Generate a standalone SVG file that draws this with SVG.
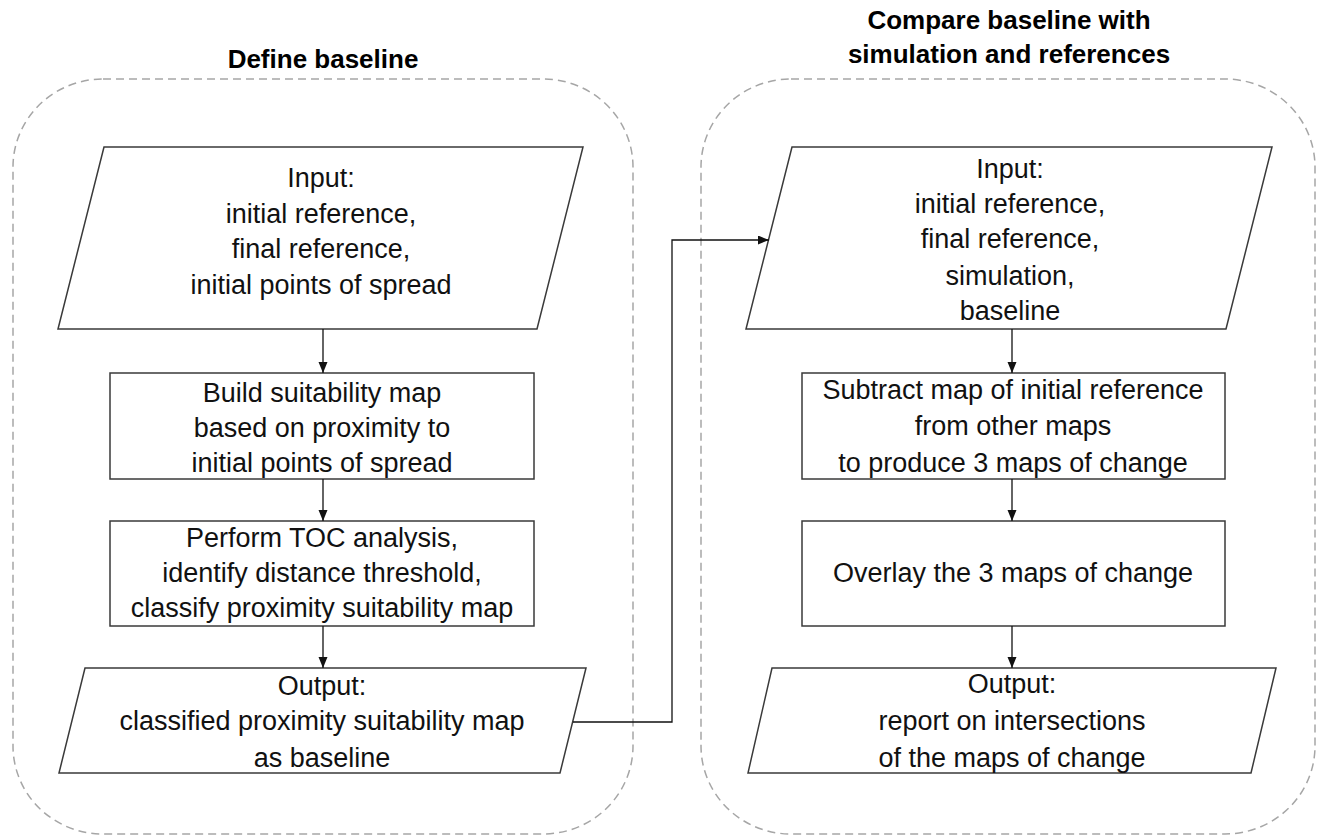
<svg xmlns="http://www.w3.org/2000/svg" width="1327" height="837" viewBox="0 0 1327 837">
  <style>
    .bg { fill: #ffffff; }
    .group { fill: none; stroke: #a6a6a6; stroke-width: 1.5; stroke-dasharray: 8 5; }
    .title { font-family: "Liberation Sans", Arial, sans-serif; font-size: 26px; font-weight: bold; fill: #000; text-anchor: middle; }
    .shape { fill: #ffffff; stroke: #3a3a3a; stroke-width: 1.5; }
    .label { font-family: "Liberation Sans", Arial, sans-serif; font-size: 27px; fill: #111; text-anchor: middle; }
    .edge { fill: none; stroke: #111; stroke-width: 1.3; }
  </style>
  <defs>
    <marker id="arrow" markerUnits="userSpaceOnUse" markerWidth="12" markerHeight="10" refX="11" refY="4.5" orient="auto">
      <path d="M0,0 L11,4.5 L0,9 z" fill="#111"/>
    </marker>
  </defs>

  <rect class="bg" x="0" y="0" width="1327" height="837"/>

  <!-- stage 1 frame -->
  <g id="stage-define-baseline">
    <rect class="group" x="13" y="79" width="620" height="755" rx="90" ry="88"/>
    <text class="title" x="323" y="68">Define baseline</text>
  </g>

  <!-- stage 2 frame -->
  <g id="stage-compare">
    <rect class="group" x="701" y="79" width="614" height="755" rx="90" ry="88"/>
    <text class="title" x="1009" y="29">Compare baseline with</text>
    <text class="title" x="1009" y="63">simulation and references</text>
  </g>

  <!-- left column -->
  <g id="input-left">
    <polygon class="shape" points="104,147 583,147 537,329 58,329"/>
    <text class="label" x="321" y="187">Input:</text>
    <text class="label" x="321" y="223">initial reference,</text>
    <text class="label" x="321" y="258">final reference,</text>
    <text class="label" x="321" y="294">initial points of spread</text>
  </g>

  <g id="build-suitability">
    <rect class="shape" x="110" y="373" width="424" height="106"/>
    <text class="label" x="322" y="402">Build suitability map</text>
    <text class="label" x="322" y="437">based on proximity to</text>
    <text class="label" x="322" y="472">initial points of spread</text>
  </g>

  <g id="toc-analysis">
    <rect class="shape" x="110" y="521" width="424" height="105"/>
    <text class="label" x="322" y="547">Perform TOC analysis,</text>
    <text class="label" x="322" y="582">identify distance threshold,</text>
    <text class="label" x="322" y="617">classify proximity suitability map</text>
  </g>

  <g id="output-left">
    <polygon class="shape" points="85,668 586,668 560,773 59,773"/>
    <text class="label" x="322" y="695">Output:</text>
    <text class="label" x="322" y="730">classified proximity suitability map</text>
    <text class="label" x="322" y="767">as baseline</text>
  </g>

  <!-- right column -->
  <g id="input-right">
    <polygon class="shape" points="792,147 1272,147 1226,329 746,329"/>
    <text class="label" x="1010" y="178">Input:</text>
    <text class="label" x="1010" y="213">initial reference,</text>
    <text class="label" x="1010" y="248">final reference,</text>
    <text class="label" x="1010" y="285">simulation,</text>
    <text class="label" x="1010" y="320">baseline</text>
  </g>

  <g id="subtract-maps">
    <rect class="shape" x="802" y="373" width="423" height="106"/>
    <text class="label" x="1013" y="399">Subtract map of initial reference</text>
    <text class="label" x="1013" y="435">from other maps</text>
    <text class="label" x="1013" y="472">to produce 3 maps of change</text>
  </g>

  <g id="overlay-maps">
    <rect class="shape" x="802" y="521" width="423" height="105"/>
    <text class="label" x="1013" y="582">Overlay the 3 maps of change</text>
  </g>

  <g id="output-right">
    <polygon class="shape" points="772,668 1276,668 1251,773 748,773"/>
    <text class="label" x="1012" y="693">Output:</text>
    <text class="label" x="1012" y="730">report on intersections</text>
    <text class="label" x="1012" y="767">of the maps of change</text>
  </g>

  <!-- connectors -->
  <g id="connectors">
    <line class="edge" x1="323" y1="329" x2="323" y2="373" marker-end="url(#arrow)"/>
    <line class="edge" x1="323" y1="479" x2="323" y2="521" marker-end="url(#arrow)"/>
    <line class="edge" x1="323" y1="626" x2="323" y2="668" marker-end="url(#arrow)"/>
    <path class="edge" d="M573,722 H672 V240 H769" marker-end="url(#arrow)"/>
    <line class="edge" x1="1012" y1="329" x2="1012" y2="373" marker-end="url(#arrow)"/>
    <line class="edge" x1="1012" y1="479" x2="1012" y2="521" marker-end="url(#arrow)"/>
    <line class="edge" x1="1012" y1="626" x2="1012" y2="668" marker-end="url(#arrow)"/>
  </g>
</svg>
